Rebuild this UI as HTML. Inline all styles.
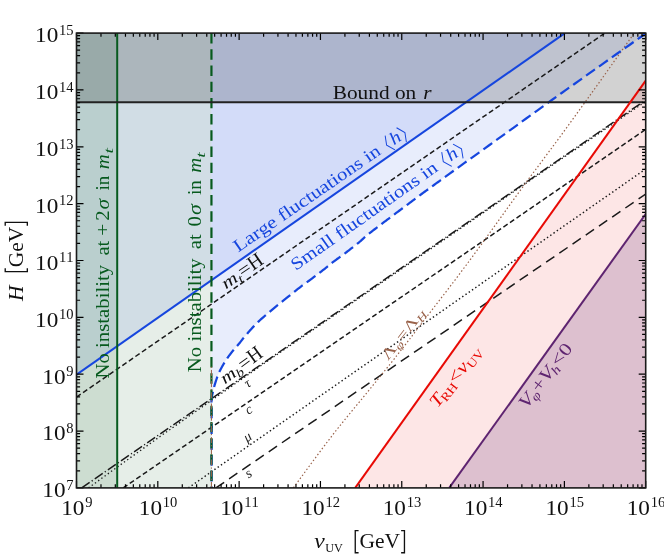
<!DOCTYPE html>
<html><head><meta charset="utf-8"><title>H vs v_UV</title>
<style>html,body{margin:0;padding:0;background:#fff;}body{width:664px;height:559px;overflow:hidden;}svg{display:block;}text{font-family:"Liberation Serif",serif;font-kerning:none;}.it{font-style:italic;}</style></head><body>
<svg style="will-change:transform" width="664" height="559" viewBox="0 0 664 559">
<rect x="0" y="0" width="664" height="559" fill="#ffffff"/>
<defs><clipPath id="cp"><rect x="76.5" y="33.1" width="569.20" height="454.80"/></clipPath></defs>
<g clip-path="url(#cp)">
<polygon points="76.50,33.10 564.90,33.10 76.50,374.60" fill="#1a4ce0" fill-opacity="0.1"/>
<polygon points="211.45,33.10 645.70,33.10 645.70,33.50 643.51,35.05 640.79,36.97 637.62,39.21 634.06,41.72 630.18,44.46 626.05,47.37 621.75,50.42 617.33,53.53 612.88,56.68 608.46,59.81 604.15,62.86 600.00,65.80 595.91,68.70 591.72,71.67 587.45,74.69 583.13,77.76 578.77,80.85 574.39,83.96 570.01,87.07 565.65,90.17 561.33,93.25 557.07,96.29 552.88,99.28 548.80,102.20 544.83,105.05 540.98,107.82 537.21,110.54 533.50,113.23 529.83,115.88 526.18,118.53 522.52,121.19 518.83,123.86 515.09,126.58 511.27,129.34 507.35,132.18 503.30,135.10 499.00,138.20 494.37,141.53 489.52,145.01 484.53,148.60 479.48,152.23 474.47,155.82 469.58,159.34 464.89,162.70 460.51,165.85 456.50,168.72 452.97,171.26 450.00,173.40 447.64,175.10 445.85,176.39 444.52,177.35 443.57,178.04 442.92,178.51 442.48,178.84 442.16,179.07 441.89,179.28 441.56,179.53 441.09,179.87 440.40,180.37 439.40,181.10 438.17,181.99 436.85,182.94 435.46,183.95 434.00,185.00 432.50,186.08 430.96,187.19 429.39,188.33 427.81,189.47 426.23,190.62 424.66,191.76 423.11,192.89 421.60,194.00 420.11,195.10 418.62,196.20 417.13,197.31 415.64,198.43 414.15,199.55 412.66,200.67 411.16,201.79 409.67,202.91 408.18,204.04 406.68,205.16 405.19,206.28 403.70,207.40 402.21,208.52 400.72,209.63 399.23,210.74 397.73,211.86 396.24,212.97 394.75,214.08 393.26,215.20 391.77,216.31 390.28,217.43 388.78,218.55 387.29,219.67 385.80,220.80 384.28,221.95 382.70,223.14 381.09,224.36 379.46,225.59 377.84,226.83 376.22,228.05 374.65,229.25 373.13,230.42 371.67,231.54 370.30,232.60 369.04,233.59 367.90,234.50 366.91,235.31 366.07,236.01 365.35,236.64 364.73,237.20 364.17,237.71 363.66,238.20 363.17,238.67 362.66,239.16 362.12,239.66 361.51,240.21 360.82,240.82 360.00,241.50 359.08,242.26 358.09,243.06 357.03,243.91 355.93,244.79 354.80,245.70 353.63,246.62 352.45,247.55 351.27,248.47 350.09,249.39 348.93,250.29 347.79,251.16 346.70,252.00 345.64,252.80 344.59,253.58 343.55,254.35 342.51,255.10 341.49,255.84 340.47,256.57 339.45,257.30 338.43,258.04 337.41,258.78 336.38,259.54 335.34,260.31 334.30,261.10 333.25,261.91 332.19,262.74 331.13,263.58 330.07,264.44 329.00,265.30 327.93,266.16 326.86,267.03 325.79,267.90 324.72,268.76 323.64,269.62 322.57,270.46 321.50,271.30 320.41,272.14 319.31,272.98 318.18,273.84 317.05,274.70 315.91,275.55 314.79,276.39 313.68,277.22 312.59,278.04 311.53,278.83 310.50,279.59 309.52,280.31 308.60,281.00 307.75,281.63 306.99,282.18 306.30,282.68 305.65,283.14 305.03,283.58 304.43,284.01 303.81,284.45 303.17,284.91 302.49,285.41 301.75,285.97 300.92,286.59 300.00,287.30 298.98,288.10 297.87,288.96 296.70,289.89 295.48,290.86 294.21,291.88 292.91,292.92 291.58,293.98 290.26,295.05 288.93,296.11 287.62,297.17 286.34,298.20 285.10,299.20 283.89,300.17 282.68,301.14 281.48,302.10 280.29,303.05 279.10,304.00 277.91,304.95 276.73,305.90 275.54,306.86 274.36,307.83 273.18,308.81 271.99,309.80 270.80,310.80 269.60,311.82 268.39,312.85 267.16,313.89 265.94,314.94 264.71,316.00 263.49,317.06 262.27,318.13 261.07,319.20 259.89,320.28 258.73,321.35 257.60,322.43 256.50,323.50 255.41,324.59 254.33,325.72 253.25,326.87 252.18,328.03 251.13,329.20 250.11,330.36 249.11,331.49 248.15,332.60 247.24,333.66 246.37,334.68 245.55,335.63 244.80,336.50 244.12,337.29 243.52,338.01 242.99,338.66 242.51,339.27 242.07,339.83 241.66,340.36 241.27,340.87 240.89,341.37 240.51,341.87 240.10,342.39 239.67,342.93 239.20,343.50 238.70,344.10 238.18,344.70 237.66,345.30 237.13,345.91 236.59,346.52 236.05,347.12 235.51,347.74 234.97,348.35 234.44,348.96 233.92,349.57 233.40,350.19 232.90,350.80 232.41,351.41 231.92,352.02 231.44,352.63 230.96,353.23 230.49,353.84 230.02,354.45 229.56,355.06 229.10,355.68 228.64,356.30 228.19,356.93 227.74,357.56 227.30,358.20 226.86,358.85 226.42,359.52 225.98,360.19 225.54,360.87 225.11,361.56 224.69,362.24 224.27,362.93 223.86,363.62 223.45,364.30 223.06,364.98 222.67,365.64 222.30,366.30 221.94,366.94 221.59,367.57 221.25,368.19 220.92,368.80 220.60,369.40 220.28,370.01 219.97,370.61 219.67,371.23 219.37,371.85 219.08,372.48 218.79,373.13 218.50,373.80 218.21,374.49 217.93,375.21 217.65,375.95 217.37,376.71 217.10,377.47 216.83,378.24 216.57,379.00 216.32,379.76 216.07,380.50 215.84,381.23 215.61,381.93 215.40,382.60 215.20,383.23 215.01,383.83 214.84,384.40 214.68,384.95 214.52,385.48 214.38,386.01 214.23,386.54 214.09,387.09 213.95,387.64 213.80,388.23 213.65,388.84 213.50,389.50 213.34,390.19 213.16,390.90 212.98,391.63 212.80,392.39 212.61,393.15 212.43,393.94 212.26,394.74 212.09,395.55 211.94,396.37 211.81,397.21 211.69,398.05 211.60,398.90 211.53,399.71 211.49,400.43 211.47,401.11 211.46,401.77 211.47,402.45 211.48,403.16 211.50,403.95 211.53,404.84 211.56,405.86 211.58,407.04 211.59,408.41 211.60,410.00 211.60,411.78 211.60,413.70 211.60,415.75 211.60,417.94 211.60,420.25 211.60,422.70 211.60,425.27 211.60,427.97 211.60,430.80 211.60,433.75 211.60,436.81 211.60,440.00 211.60,443.52 211.60,447.50 211.60,451.84 211.60,456.41 211.60,461.11 211.60,465.82 211.60,470.43 211.60,474.82 211.60,478.87 211.60,482.48 211.60,485.53 211.60,487.90" fill="#1a4ce0" fill-opacity="0.1"/>
<rect x="76.5" y="33.1" width="40.70" height="454.80" fill="#075a1e" fill-opacity="0.11"/>
<rect x="76.5" y="33.1" width="134.95" height="454.80" fill="#075a1e" fill-opacity="0.1"/>
<rect x="76.5" y="33.1" width="569.20" height="69.10" fill="#000000" fill-opacity="0.175"/>
<polygon points="355.20,487.90 645.70,80.70 645.70,487.90" fill="#e80a05" fill-opacity="0.1"/>
<polygon points="449.20,487.90 645.70,214.00 645.70,487.90" fill="#5e2470" fill-opacity="0.195"/>
<line x1="76.50" y1="397.10" x2="604.80" y2="33.10" stroke="#1a1a1a" stroke-width="1.5" stroke-dasharray="5.1 2.85" stroke-linecap="butt" />
<line x1="81.70" y1="487.90" x2="645.70" y2="100.00" stroke="#1a1a1a" stroke-width="1.5" stroke-dasharray="9.6 2.55 1.2 2.55" stroke-linecap="butt" />
<polyline points="88.50,487.90 117.20,467.10 160.00,436.50 212.00,400.00 260.00,366.30 560.00,159.90 645.70,101.50" fill="none" stroke="#1a1a1a" stroke-width="1.35" stroke-dasharray="1.35 2.625"/>
<line x1="123.20" y1="487.90" x2="645.70" y2="129.40" stroke="#1a1a1a" stroke-width="1.5" stroke-dasharray="5.1 2.85" stroke-linecap="butt" />
<line x1="188.30" y1="487.90" x2="645.70" y2="169.00" stroke="#1a1a1a" stroke-width="1.45" stroke-dasharray="1.45 2.525" stroke-linecap="butt" />
<line x1="215.90" y1="487.90" x2="645.70" y2="194.10" stroke="#1a1a1a" stroke-width="1.5" stroke-dasharray="10 6" stroke-linecap="butt" />
<polyline points="293.40,487.90 296.51,483.64 300.88,477.65 306.02,470.61 311.44,463.19 316.67,456.10 321.20,450.00 324.95,445.02 328.29,440.62 331.42,436.54 334.56,432.50 337.92,428.25 341.70,423.50 345.96,418.23 350.54,412.64 355.34,406.83 360.25,400.89 365.17,394.92 370.00,389.00 374.76,383.12 379.54,377.21 384.33,371.27 389.13,365.29 393.92,359.26 398.70,353.20 403.47,347.08 408.24,340.91 413.00,334.69 417.76,328.46 422.53,322.22 427.30,316.00 432.08,309.81 436.86,303.63 441.65,297.44 446.44,291.24 451.22,285.00 456.00,278.70 460.70,272.45 465.30,266.29 469.89,260.08 474.58,253.71 479.45,247.06 484.60,240.00 490.02,232.49 495.65,224.63 501.46,216.49 507.44,208.12 513.56,199.60 519.80,191.00 526.25,182.23 532.92,173.24 539.74,164.09 546.62,154.87 553.47,145.65 560.20,136.50 566.87,127.35 573.55,118.13 580.21,108.90 586.78,99.75 593.23,90.76 599.50,82.00 605.95,72.96 612.69,63.47 619.31,54.14 625.37,45.57 630.48,38.36 634.20,33.10" fill="none" stroke="#99624a" stroke-width="1.2" stroke-dasharray="1.5 2.2"/>
<line x1="76.50" y1="374.60" x2="564.90" y2="33.10" stroke="#1646de" stroke-width="2.05" stroke-linecap="butt" />
<polyline points="211.60,487.90 211.60,485.53 211.60,482.48 211.60,478.87 211.60,474.82 211.60,470.43 211.60,465.82 211.60,461.11 211.60,456.41 211.60,451.84 211.60,447.50 211.60,443.52 211.60,440.00 211.60,436.81 211.60,433.75 211.60,430.80 211.60,427.97 211.60,425.27 211.60,422.70 211.60,420.25 211.60,417.94 211.60,415.75 211.60,413.70 211.60,411.78 211.60,410.00 211.59,408.41 211.58,407.04 211.56,405.86 211.53,404.84 211.50,403.95 211.48,403.16 211.47,402.45 211.46,401.77 211.47,401.11 211.49,400.43 211.53,399.71 211.60,398.90 211.69,398.05 211.81,397.21 211.94,396.37 212.09,395.55 212.26,394.74 212.43,393.94 212.61,393.15 212.80,392.39 212.98,391.63 213.16,390.90 213.34,390.19 213.50,389.50 213.65,388.84 213.80,388.23 213.95,387.64 214.09,387.09 214.23,386.54 214.38,386.01 214.52,385.48 214.68,384.95 214.84,384.40 215.01,383.83 215.20,383.23 215.40,382.60 215.61,381.93 215.84,381.23 216.07,380.50 216.32,379.76 216.57,379.00 216.83,378.24 217.10,377.47 217.37,376.71 217.65,375.95 217.93,375.21 218.21,374.49 218.50,373.80 218.79,373.13 219.08,372.48 219.37,371.85 219.67,371.23 219.97,370.61 220.28,370.01 220.60,369.40 220.92,368.80 221.25,368.19 221.59,367.57 221.94,366.94 222.30,366.30 222.67,365.64 223.06,364.98 223.45,364.30 223.86,363.62 224.27,362.93 224.69,362.24 225.11,361.56 225.54,360.87 225.98,360.19 226.42,359.52 226.86,358.85 227.30,358.20 227.74,357.56 228.19,356.93 228.64,356.30 229.10,355.68 229.56,355.06 230.02,354.45 230.49,353.84 230.96,353.23 231.44,352.63 231.92,352.02 232.41,351.41 232.90,350.80 233.40,350.19 233.92,349.57 234.44,348.96 234.97,348.35 235.51,347.74 236.05,347.12 236.59,346.52 237.13,345.91 237.66,345.30 238.18,344.70 238.70,344.10 239.20,343.50 239.67,342.93 240.10,342.39 240.51,341.87 240.89,341.37 241.27,340.87 241.66,340.36 242.07,339.83 242.51,339.27 242.99,338.66 243.52,338.01 244.12,337.29 244.80,336.50 245.55,335.63 246.37,334.68 247.24,333.66 248.15,332.60 249.11,331.49 250.11,330.36 251.13,329.20 252.18,328.03 253.25,326.87 254.33,325.72 255.41,324.59 256.50,323.50 257.60,322.43 258.73,321.35 259.89,320.28 261.07,319.20 262.27,318.13 263.49,317.06 264.71,316.00 265.94,314.94 267.16,313.89 268.39,312.85 269.60,311.82 270.80,310.80 271.99,309.80 273.18,308.81 274.36,307.83 275.54,306.86 276.73,305.90 277.91,304.95 279.10,304.00 280.29,303.05 281.48,302.10 282.68,301.14 283.89,300.17 285.10,299.20 286.34,298.20 287.62,297.17 288.93,296.11 290.26,295.05 291.58,293.98 292.91,292.92 294.21,291.88 295.48,290.86 296.70,289.89 297.87,288.96 298.98,288.10 300.00,287.30 300.92,286.59 301.75,285.97 302.49,285.41 303.17,284.91 303.81,284.45 304.43,284.01 305.03,283.58 305.65,283.14 306.30,282.68 306.99,282.18 307.75,281.63 308.60,281.00 309.52,280.31 310.50,279.59 311.53,278.83 312.59,278.04 313.68,277.22 314.79,276.39 315.91,275.55 317.05,274.70 318.18,273.84 319.31,272.98 320.41,272.14 321.50,271.30 322.57,270.46 323.64,269.62 324.72,268.76 325.79,267.90 326.86,267.03 327.93,266.16 329.00,265.30 330.07,264.44 331.13,263.58 332.19,262.74 333.25,261.91 334.30,261.10 335.34,260.31 336.38,259.54 337.41,258.78 338.43,258.04 339.45,257.30 340.47,256.57 341.49,255.84 342.51,255.10 343.55,254.35 344.59,253.58 345.64,252.80 346.70,252.00 347.79,251.16 348.93,250.29 350.09,249.39 351.27,248.47 352.45,247.55 353.63,246.62 354.80,245.70 355.93,244.79 357.03,243.91 358.09,243.06 359.08,242.26 360.00,241.50 360.82,240.82 361.51,240.21 362.12,239.66 362.66,239.16 363.17,238.67 363.66,238.20 364.17,237.71 364.73,237.20 365.35,236.64 366.07,236.01 366.91,235.31 367.90,234.50 369.04,233.59 370.30,232.60 371.67,231.54 373.13,230.42 374.65,229.25 376.22,228.05 377.84,226.83 379.46,225.59 381.09,224.36 382.70,223.14 384.28,221.95 385.80,220.80 387.29,219.67 388.78,218.55 390.28,217.43 391.77,216.31 393.26,215.20 394.75,214.08 396.24,212.97 397.73,211.86 399.23,210.74 400.72,209.63 402.21,208.52 403.70,207.40 405.19,206.28 406.68,205.16 408.18,204.04 409.67,202.91 411.16,201.79 412.66,200.67 414.15,199.55 415.64,198.43 417.13,197.31 418.62,196.20 420.11,195.10 421.60,194.00 423.11,192.89 424.66,191.76 426.23,190.62 427.81,189.47 429.39,188.33 430.96,187.19 432.50,186.08 434.00,185.00 435.46,183.95 436.85,182.94 438.17,181.99 439.40,181.10 440.40,180.37 441.09,179.87 441.56,179.53 441.89,179.28 442.16,179.07 442.48,178.84 442.92,178.51 443.57,178.04 444.52,177.35 445.85,176.39 447.64,175.10 450.00,173.40 452.97,171.26 456.50,168.72 460.51,165.85 464.89,162.70 469.58,159.34 474.47,155.82 479.48,152.23 484.53,148.60 489.52,145.01 494.37,141.53 499.00,138.20 503.30,135.10 507.35,132.18 511.27,129.34 515.09,126.58 518.83,123.86 522.52,121.19 526.18,118.53 529.83,115.88 533.50,113.23 537.21,110.54 540.98,107.82 544.83,105.05 548.80,102.20 552.88,99.28 557.07,96.29 561.33,93.25 565.65,90.17 570.01,87.07 574.39,83.96 578.77,80.85 583.13,77.76 587.45,74.69 591.72,71.67 595.91,68.70 600.00,65.80 604.15,62.86 608.46,59.81 612.88,56.68 617.33,53.53 621.75,50.42 626.05,47.37 630.18,44.46 634.06,41.72 637.62,39.21 640.79,36.97 643.51,35.05 645.70,33.50" fill="none" stroke="#1646de" stroke-width="2.25" stroke-dasharray="10.8 5.0" stroke-dashoffset="9.4"/>
<line x1="117.20" y1="33.10" x2="117.20" y2="487.90" stroke="#075a1e" stroke-width="2.0" stroke-linecap="butt" />
<line x1="211.45" y1="33.10" x2="211.45" y2="487.90" stroke="#075a1e" stroke-width="2.2" stroke-dasharray="10.4 5.8" stroke-linecap="butt" />
<line x1="211.45" y1="487.90" x2="211.45" y2="365.00" stroke="#99624a" stroke-width="1.0" stroke-dasharray="6 2 1.2 2" stroke-linecap="butt" />
<line x1="76.50" y1="102.20" x2="645.70" y2="102.20" stroke="#222222" stroke-width="1.9" stroke-linecap="butt" />
<line x1="355.20" y1="487.90" x2="645.70" y2="80.70" stroke="#e80a05" stroke-width="2.0" stroke-linecap="butt" />
<line x1="449.20" y1="487.90" x2="645.70" y2="214.00" stroke="#5e2470" stroke-width="2.0" stroke-linecap="butt" />
</g>
<path d="M76.50,487.9v-7.0M76.50,33.1v7.0M100.98,487.9v-3.6M100.98,33.1v3.6M115.30,487.9v-3.6M115.30,33.1v3.6M125.46,487.9v-3.6M125.46,33.1v3.6M133.34,487.9v-3.6M133.34,33.1v3.6M139.77,487.9v-3.6M139.77,33.1v3.6M145.22,487.9v-3.6M145.22,33.1v3.6M149.93,487.9v-3.6M149.93,33.1v3.6M154.09,487.9v-3.6M154.09,33.1v3.6M157.81,487.9v-7.0M157.81,33.1v7.0M182.29,487.9v-3.6M182.29,33.1v3.6M196.61,487.9v-3.6M196.61,33.1v3.6M206.77,487.9v-3.6M206.77,33.1v3.6M214.65,487.9v-3.6M214.65,33.1v3.6M221.09,487.9v-3.6M221.09,33.1v3.6M226.53,487.9v-3.6M226.53,33.1v3.6M231.25,487.9v-3.6M231.25,33.1v3.6M235.41,487.9v-3.6M235.41,33.1v3.6M239.13,487.9v-7.0M239.13,33.1v7.0M263.61,487.9v-3.6M263.61,33.1v3.6M277.93,487.9v-3.6M277.93,33.1v3.6M288.08,487.9v-3.6M288.08,33.1v3.6M295.96,487.9v-3.6M295.96,33.1v3.6M302.40,487.9v-3.6M302.40,33.1v3.6M307.85,487.9v-3.6M307.85,33.1v3.6M312.56,487.9v-3.6M312.56,33.1v3.6M316.72,487.9v-3.6M316.72,33.1v3.6M320.44,487.9v-7.0M320.44,33.1v7.0M344.92,487.9v-3.6M344.92,33.1v3.6M359.24,487.9v-3.6M359.24,33.1v3.6M369.40,487.9v-3.6M369.40,33.1v3.6M377.28,487.9v-3.6M377.28,33.1v3.6M383.72,487.9v-3.6M383.72,33.1v3.6M389.16,487.9v-3.6M389.16,33.1v3.6M393.88,487.9v-3.6M393.88,33.1v3.6M398.04,487.9v-3.6M398.04,33.1v3.6M401.76,487.9v-7.0M401.76,33.1v7.0M426.24,487.9v-3.6M426.24,33.1v3.6M440.55,487.9v-3.6M440.55,33.1v3.6M450.71,487.9v-3.6M450.71,33.1v3.6M458.59,487.9v-3.6M458.59,33.1v3.6M465.03,487.9v-3.6M465.03,33.1v3.6M470.48,487.9v-3.6M470.48,33.1v3.6M475.19,487.9v-3.6M475.19,33.1v3.6M479.35,487.9v-3.6M479.35,33.1v3.6M483.07,487.9v-7.0M483.07,33.1v7.0M507.55,487.9v-3.6M507.55,33.1v3.6M521.87,487.9v-3.6M521.87,33.1v3.6M532.03,487.9v-3.6M532.03,33.1v3.6M539.91,487.9v-3.6M539.91,33.1v3.6M546.35,487.9v-3.6M546.35,33.1v3.6M551.79,487.9v-3.6M551.79,33.1v3.6M556.51,487.9v-3.6M556.51,33.1v3.6M560.66,487.9v-3.6M560.66,33.1v3.6M564.39,487.9v-7.0M564.39,33.1v7.0M588.86,487.9v-3.6M588.86,33.1v3.6M603.18,487.9v-3.6M603.18,33.1v3.6M613.34,487.9v-3.6M613.34,33.1v3.6M621.22,487.9v-3.6M621.22,33.1v3.6M627.66,487.9v-3.6M627.66,33.1v3.6M633.10,487.9v-3.6M633.10,33.1v3.6M637.82,487.9v-3.6M637.82,33.1v3.6M641.98,487.9v-3.6M641.98,33.1v3.6M645.70,487.9v-7.0M645.70,33.1v7.0M76.5,487.90h7.0M645.7,487.90h-7.0M76.5,470.79h3.6M645.7,470.79h-3.6M76.5,460.78h3.6M645.7,460.78h-3.6M76.5,453.67h3.6M645.7,453.67h-3.6M76.5,448.16h3.6M645.7,448.16h-3.6M76.5,443.66h3.6M645.7,443.66h-3.6M76.5,439.86h3.6M645.7,439.86h-3.6M76.5,436.56h3.6M645.7,436.56h-3.6M76.5,433.65h3.6M645.7,433.65h-3.6M76.5,431.05h7.0M645.7,431.05h-7.0M76.5,413.94h3.6M645.7,413.94h-3.6M76.5,403.93h3.6M645.7,403.93h-3.6M76.5,396.82h3.6M645.7,396.82h-3.6M76.5,391.31h3.6M645.7,391.31h-3.6M76.5,386.81h3.6M645.7,386.81h-3.6M76.5,383.01h3.6M645.7,383.01h-3.6M76.5,379.71h3.6M645.7,379.71h-3.6M76.5,376.80h3.6M645.7,376.80h-3.6M76.5,374.20h7.0M645.7,374.20h-7.0M76.5,357.09h3.6M645.7,357.09h-3.6M76.5,347.08h3.6M645.7,347.08h-3.6M76.5,339.97h3.6M645.7,339.97h-3.6M76.5,334.46h3.6M645.7,334.46h-3.6M76.5,329.96h3.6M645.7,329.96h-3.6M76.5,326.16h3.6M645.7,326.16h-3.6M76.5,322.86h3.6M645.7,322.86h-3.6M76.5,319.95h3.6M645.7,319.95h-3.6M76.5,317.35h7.0M645.7,317.35h-7.0M76.5,300.24h3.6M645.7,300.24h-3.6M76.5,290.23h3.6M645.7,290.23h-3.6M76.5,283.12h3.6M645.7,283.12h-3.6M76.5,277.61h3.6M645.7,277.61h-3.6M76.5,273.11h3.6M645.7,273.11h-3.6M76.5,269.31h3.6M645.7,269.31h-3.6M76.5,266.01h3.6M645.7,266.01h-3.6M76.5,263.10h3.6M645.7,263.10h-3.6M76.5,260.50h7.0M645.7,260.50h-7.0M76.5,243.39h3.6M645.7,243.39h-3.6M76.5,233.38h3.6M645.7,233.38h-3.6M76.5,226.27h3.6M645.7,226.27h-3.6M76.5,220.76h3.6M645.7,220.76h-3.6M76.5,216.26h3.6M645.7,216.26h-3.6M76.5,212.46h3.6M645.7,212.46h-3.6M76.5,209.16h3.6M645.7,209.16h-3.6M76.5,206.25h3.6M645.7,206.25h-3.6M76.5,203.65h7.0M645.7,203.65h-7.0M76.5,186.54h3.6M645.7,186.54h-3.6M76.5,176.53h3.6M645.7,176.53h-3.6M76.5,169.42h3.6M645.7,169.42h-3.6M76.5,163.91h3.6M645.7,163.91h-3.6M76.5,159.41h3.6M645.7,159.41h-3.6M76.5,155.61h3.6M645.7,155.61h-3.6M76.5,152.31h3.6M645.7,152.31h-3.6M76.5,149.40h3.6M645.7,149.40h-3.6M76.5,146.80h7.0M645.7,146.80h-7.0M76.5,129.69h3.6M645.7,129.69h-3.6M76.5,119.68h3.6M645.7,119.68h-3.6M76.5,112.57h3.6M645.7,112.57h-3.6M76.5,107.06h3.6M645.7,107.06h-3.6M76.5,102.56h3.6M645.7,102.56h-3.6M76.5,98.76h3.6M645.7,98.76h-3.6M76.5,95.46h3.6M645.7,95.46h-3.6M76.5,92.55h3.6M645.7,92.55h-3.6M76.5,89.95h7.0M645.7,89.95h-7.0M76.5,72.84h3.6M645.7,72.84h-3.6M76.5,62.83h3.6M645.7,62.83h-3.6M76.5,55.72h3.6M645.7,55.72h-3.6M76.5,50.21h3.6M645.7,50.21h-3.6M76.5,45.71h3.6M645.7,45.71h-3.6M76.5,41.91h3.6M645.7,41.91h-3.6M76.5,38.61h3.6M645.7,38.61h-3.6M76.5,35.70h3.6M645.7,35.70h-3.6M76.5,33.10h7.0M645.7,33.10h-7.0" stroke="#000" stroke-width="1.2" fill="none"/>
<rect x="76.5" y="33.1" width="569.20" height="454.80" fill="none" stroke="#1a1a1a" stroke-width="1.6"/>
<g id="xt9" transform="translate(76.80,515.10) rotate(0.00) scale(1.0000,1.0000) translate(-15.64,0)" fill="#111" color="#111"><text transform="translate(0.00,0.00) scale(1.1600,1)" font-size="20" xml:space="preserve">10</text><text transform="translate(24.00,-7.60) scale(1.0400,1)" font-size="14" xml:space="preserve">9</text></g>
<g id="xt10" transform="translate(158.11,515.10) rotate(0.00) scale(1.0000,1.0000) translate(-19.28,0)" fill="#111" color="#111"><text transform="translate(0.00,0.00) scale(1.1600,1)" font-size="20" xml:space="preserve">10</text><text transform="translate(24.00,-7.60) scale(1.0400,1)" font-size="14" xml:space="preserve">10</text></g>
<g id="xt11" transform="translate(239.43,515.10) rotate(0.00) scale(1.0000,1.0000) translate(-19.28,0)" fill="#111" color="#111"><text transform="translate(0.00,0.00) scale(1.1600,1)" font-size="20" xml:space="preserve">10</text><text transform="translate(24.00,-7.60) scale(1.0400,1)" font-size="14" xml:space="preserve">11</text></g>
<g id="xt12" transform="translate(320.74,515.10) rotate(0.00) scale(1.0000,1.0000) translate(-19.28,0)" fill="#111" color="#111"><text transform="translate(0.00,0.00) scale(1.1600,1)" font-size="20" xml:space="preserve">10</text><text transform="translate(24.00,-7.60) scale(1.0400,1)" font-size="14" xml:space="preserve">12</text></g>
<g id="xt13" transform="translate(402.06,515.10) rotate(0.00) scale(1.0000,1.0000) translate(-19.28,0)" fill="#111" color="#111"><text transform="translate(0.00,0.00) scale(1.1600,1)" font-size="20" xml:space="preserve">10</text><text transform="translate(24.00,-7.60) scale(1.0400,1)" font-size="14" xml:space="preserve">13</text></g>
<g id="xt14" transform="translate(483.37,515.10) rotate(0.00) scale(1.0000,1.0000) translate(-19.28,0)" fill="#111" color="#111"><text transform="translate(0.00,0.00) scale(1.1600,1)" font-size="20" xml:space="preserve">10</text><text transform="translate(24.00,-7.60) scale(1.0400,1)" font-size="14" xml:space="preserve">14</text></g>
<g id="xt15" transform="translate(564.69,515.10) rotate(0.00) scale(1.0000,1.0000) translate(-19.28,0)" fill="#111" color="#111"><text transform="translate(0.00,0.00) scale(1.1600,1)" font-size="20" xml:space="preserve">10</text><text transform="translate(24.00,-7.60) scale(1.0400,1)" font-size="14" xml:space="preserve">15</text></g>
<g id="xt16" transform="translate(646.00,515.10) rotate(0.00) scale(1.0000,1.0000) translate(-19.28,0)" fill="#111" color="#111"><text transform="translate(0.00,0.00) scale(1.1600,1)" font-size="20" xml:space="preserve">10</text><text transform="translate(24.00,-7.60) scale(1.0400,1)" font-size="14" xml:space="preserve">16</text></g>
<g id="yt7" transform="translate(73.60,497.20) rotate(0.00) scale(1.0000,1.0000) translate(-31.28,0)" fill="#111" color="#111"><text transform="translate(0.00,0.00) scale(1.1600,1)" font-size="20" xml:space="preserve">10</text><text transform="translate(24.00,-7.60) scale(1.0400,1)" font-size="14" xml:space="preserve">7</text></g>
<g id="yt8" transform="translate(73.60,440.35) rotate(0.00) scale(1.0000,1.0000) translate(-31.28,0)" fill="#111" color="#111"><text transform="translate(0.00,0.00) scale(1.1600,1)" font-size="20" xml:space="preserve">10</text><text transform="translate(24.00,-7.60) scale(1.0400,1)" font-size="14" xml:space="preserve">8</text></g>
<g id="yt9" transform="translate(73.60,383.50) rotate(0.00) scale(1.0000,1.0000) translate(-31.28,0)" fill="#111" color="#111"><text transform="translate(0.00,0.00) scale(1.1600,1)" font-size="20" xml:space="preserve">10</text><text transform="translate(24.00,-7.60) scale(1.0400,1)" font-size="14" xml:space="preserve">9</text></g>
<g id="yt10" transform="translate(73.60,326.65) rotate(0.00) scale(1.0000,1.0000) translate(-38.56,0)" fill="#111" color="#111"><text transform="translate(0.00,0.00) scale(1.1600,1)" font-size="20" xml:space="preserve">10</text><text transform="translate(24.00,-7.60) scale(1.0400,1)" font-size="14" xml:space="preserve">10</text></g>
<g id="yt11" transform="translate(73.60,269.80) rotate(0.00) scale(1.0000,1.0000) translate(-38.56,0)" fill="#111" color="#111"><text transform="translate(0.00,0.00) scale(1.1600,1)" font-size="20" xml:space="preserve">10</text><text transform="translate(24.00,-7.60) scale(1.0400,1)" font-size="14" xml:space="preserve">11</text></g>
<g id="yt12" transform="translate(73.60,212.95) rotate(0.00) scale(1.0000,1.0000) translate(-38.56,0)" fill="#111" color="#111"><text transform="translate(0.00,0.00) scale(1.1600,1)" font-size="20" xml:space="preserve">10</text><text transform="translate(24.00,-7.60) scale(1.0400,1)" font-size="14" xml:space="preserve">12</text></g>
<g id="yt13" transform="translate(73.60,156.10) rotate(0.00) scale(1.0000,1.0000) translate(-38.56,0)" fill="#111" color="#111"><text transform="translate(0.00,0.00) scale(1.1600,1)" font-size="20" xml:space="preserve">10</text><text transform="translate(24.00,-7.60) scale(1.0400,1)" font-size="14" xml:space="preserve">13</text></g>
<g id="yt14" transform="translate(73.60,99.25) rotate(0.00) scale(1.0000,1.0000) translate(-38.56,0)" fill="#111" color="#111"><text transform="translate(0.00,0.00) scale(1.1600,1)" font-size="20" xml:space="preserve">10</text><text transform="translate(24.00,-7.60) scale(1.0400,1)" font-size="14" xml:space="preserve">14</text></g>
<g id="yt15" transform="translate(73.60,42.40) rotate(0.00) scale(1.0000,1.0000) translate(-38.56,0)" fill="#111" color="#111"><text transform="translate(0.00,0.00) scale(1.1600,1)" font-size="20" xml:space="preserve">10</text><text transform="translate(24.00,-7.60) scale(1.0400,1)" font-size="14" xml:space="preserve">15</text></g>
<g id="xlabel" transform="translate(314.20,548.00) rotate(0.00) scale(0.9774,1.0000) translate(0.00,0)" fill="#111111" color="#111111"><text transform="translate(0.00,0.00) scale(1.1000,1)" font-size="22" font-style="italic" xml:space="preserve">v</text><text x="11.24" y="4.00" font-size="12.5" xml:space="preserve">UV</text><path d="M45.41,-17.38H42.00V4.73H45.41" fill="none" stroke="currentColor" stroke-width="1.36"/><text x="46.40" y="0.00" font-size="22" xml:space="preserve">GeV</text><path d="M88.93,-17.38H92.34V4.73H88.93" fill="none" stroke="currentColor" stroke-width="1.36"/></g>
<g id="ylabel" transform="translate(22.60,300.90) rotate(-90.00) scale(0.9755,1.0000) translate(0.00,0)" fill="#111111" color="#111111"><text x="0.00" y="0.00" font-size="22" font-style="italic" xml:space="preserve">H</text><path d="M33.50,-17.38H30.09V4.73H33.50" fill="none" stroke="currentColor" stroke-width="1.36"/><text x="34.49" y="0.00" font-size="22" xml:space="preserve">GeV</text><path d="M77.02,-17.38H80.43V4.73H77.02" fill="none" stroke="currentColor" stroke-width="1.36"/></g>
<g id="bound" transform="translate(332.70,98.90) rotate(0.00) scale(1.1230,1.0000) translate(0.00,0)" fill="#111111" color="#111111"><text x="0.00" y="0.00" font-size="19" xml:space="preserve">Bound on </text><text x="80.67" y="0.00" font-size="19" font-style="italic" xml:space="preserve">r</text></g>
<g id="g1" transform="translate(109.20,378.60) rotate(-90.00) scale(1.0000,1.0000) translate(0.00,0)" fill="#075a1e" color="#075a1e"><text transform="translate(0.00,0.00) scale(1.0955,1)" font-size="19" xml:space="preserve">No instability</text><text transform="translate(123.00,0.00) scale(1.0900,1)" font-size="19" xml:space="preserve">at</text><text transform="translate(142.80,0.00) scale(1.1200,1)" font-size="19" xml:space="preserve">+</text><text transform="translate(157.90,0.00) scale(1.0900,1)" font-size="19" xml:space="preserve">2</text><text transform="translate(169.00,0.00) scale(1.1200,1)" font-size="19" font-style="italic" xml:space="preserve">σ</text><text x="188.20" y="0.00" font-size="19" xml:space="preserve">in</text><text transform="translate(209.40,0.00) scale(1.0900,1)" font-size="19" font-style="italic" xml:space="preserve">m</text><text transform="translate(225.20,3.50) scale(1.5000,1)" font-size="13" font-style="italic" xml:space="preserve">t</text></g>
<g id="g2" transform="translate(201.40,372.20) rotate(-90.00) scale(1.0000,1.0000) translate(0.00,0)" fill="#075a1e" color="#075a1e"><text transform="translate(0.00,0.00) scale(1.0955,1)" font-size="19" xml:space="preserve">No instability</text><text transform="translate(123.00,0.00) scale(1.0900,1)" font-size="19" xml:space="preserve">at</text><text transform="translate(145.70,0.00) scale(1.0900,1)" font-size="19" xml:space="preserve">0</text><text transform="translate(157.30,0.00) scale(1.1500,1)" font-size="19" font-style="italic" xml:space="preserve">σ</text><text x="177.10" y="0.00" font-size="19" xml:space="preserve">in</text><text transform="translate(199.40,0.00) scale(1.0900,1)" font-size="19" font-style="italic" xml:space="preserve">m</text><text transform="translate(214.40,3.50) scale(1.5000,1)" font-size="13" font-style="italic" xml:space="preserve">t</text></g>
<g id="large" transform="translate(238.30,252.40) rotate(-34.50) scale(1.1834,1.0000) translate(0.00,0)" fill="#1646de" color="#1646de"><text x="0.00" y="0.00" font-size="17.7" xml:space="preserve">Large fluctuations in </text><path d="M158.19,-13.10L154.65,-4.42L158.19,4.25" fill="none" stroke="currentColor" stroke-width="0.85"/><text x="159.60" y="0.00" font-size="17.7" font-style="italic" xml:space="preserve">h</text><path d="M169.87,-13.10L173.41,-4.42L169.87,4.25" fill="none" stroke="currentColor" stroke-width="0.85"/></g>
<g id="small" transform="translate(295.80,271.10) rotate(-35.20) scale(1.1871,1.0000) translate(0.00,0)" fill="#1646de" color="#1646de"><text x="0.00" y="0.00" font-size="17.7" xml:space="preserve">Small fluctuations in </text><path d="M158.22,-13.10L154.68,-4.42L158.22,4.25" fill="none" stroke="currentColor" stroke-width="0.85"/><text x="159.64" y="0.00" font-size="17.7" font-style="italic" xml:space="preserve">h</text><path d="M169.90,-13.10L173.44,-4.42L169.90,4.25" fill="none" stroke="currentColor" stroke-width="0.85"/></g>
<g id="mt" transform="translate(226.00,289.60) rotate(-34.50) scale(1.2980,1.0000) translate(0.00,0)" fill="#111111" color="#111111"><text x="0.00" y="0.00" font-size="17" font-style="italic" xml:space="preserve">m</text><text x="12.28" y="3.20" font-size="12" font-style="italic" xml:space="preserve">t</text><text transform="translate(15.61,0.00) scale(0.9000,1)" font-size="19" xml:space="preserve">=</text><text transform="translate(25.25,0.00) scale(0.7400,1)" font-size="20.5" xml:space="preserve">H</text></g>
<g id="mb" transform="translate(224.90,384.40) rotate(-36.00) scale(1.2476,1.0000) translate(0.00,0)" fill="#111111" color="#111111"><text x="0.00" y="0.00" font-size="17" font-style="italic" xml:space="preserve">m</text><text x="12.28" y="3.20" font-size="12" font-style="italic" xml:space="preserve">b</text><text transform="translate(18.28,0.00) scale(0.9000,1)" font-size="19" xml:space="preserve">=</text><text transform="translate(27.92,0.00) scale(0.7400,1)" font-size="20.5" xml:space="preserve">H</text></g>
<g id="q0" transform="translate(249.80,386.80) rotate(-34.00) scale(1.0000,1.0000) translate(-2.51,0)" fill="#222" color="#222"><text x="0.00" y="0.00" font-size="14" font-style="italic" xml:space="preserve">τ</text></g>
<g id="q1" transform="translate(251.00,413.20) rotate(-34.00) scale(1.0000,1.0000) translate(-3.11,0)" fill="#222" color="#222"><text x="0.00" y="0.00" font-size="14" font-style="italic" xml:space="preserve">c</text></g>
<g id="q2" transform="translate(249.90,440.50) rotate(-34.00) scale(1.0000,1.0000) translate(-3.51,0)" fill="#222" color="#222"><text x="0.00" y="0.00" font-size="14" font-style="italic" xml:space="preserve">μ</text></g>
<g id="q3" transform="translate(250.80,477.00) rotate(-34.00) scale(1.0000,1.0000) translate(-2.72,0)" fill="#222" color="#222"><text x="0.00" y="0.00" font-size="14" font-style="italic" xml:space="preserve">s</text></g>
<g id="brown" transform="translate(388.10,360.90) rotate(-52.00) scale(1.3944,1.0000) translate(0.00,0)" fill="#99624a" color="#99624a"><text x="0.00" y="0.00" font-size="15" xml:space="preserve">Λ</text><text x="10.88" y="3.00" font-size="10.5" font-style="italic" xml:space="preserve">φ</text><text x="16.69" y="0.00" font-size="15" xml:space="preserve">=</text><text x="25.14" y="0.00" font-size="15" xml:space="preserve">Λ</text><text x="36.02" y="3.00" font-size="10.5" font-style="italic" xml:space="preserve">H</text></g>
<g id="red" transform="translate(437.40,408.60) rotate(-52.00) scale(1.1941,1.0000) translate(0.00,0)" fill="#e80a05" color="#e80a05"><text x="0.00" y="0.00" font-size="18" font-style="italic" xml:space="preserve">T</text><text x="8.51" y="3.20" font-size="12" xml:space="preserve">RH</text><text x="25.18" y="0.00" font-size="19" xml:space="preserve">&lt;</text><text x="35.90" y="0.00" font-size="18" font-style="italic" xml:space="preserve">v</text><text x="43.89" y="3.20" font-size="12" xml:space="preserve">UV</text></g>
<g id="purple" transform="translate(526.80,409.40) rotate(-52.60) scale(1.2464,1.0000) translate(0.00,0)" fill="#5e2470" color="#5e2470"><text x="0.00" y="0.00" font-size="18" font-style="italic" xml:space="preserve">V</text><text x="9.50" y="3.20" font-size="12.5" font-style="italic" xml:space="preserve">φ</text><text x="16.41" y="0.00" font-size="18" xml:space="preserve">+</text><text x="26.56" y="0.00" font-size="18" font-style="italic" xml:space="preserve">V</text><text x="36.06" y="3.20" font-size="12.5" font-style="italic" xml:space="preserve">h</text><text x="42.31" y="0.00" font-size="18" xml:space="preserve">&lt;</text><text x="52.46" y="0.00" font-size="18" xml:space="preserve">0</text></g>
</svg></body></html>
